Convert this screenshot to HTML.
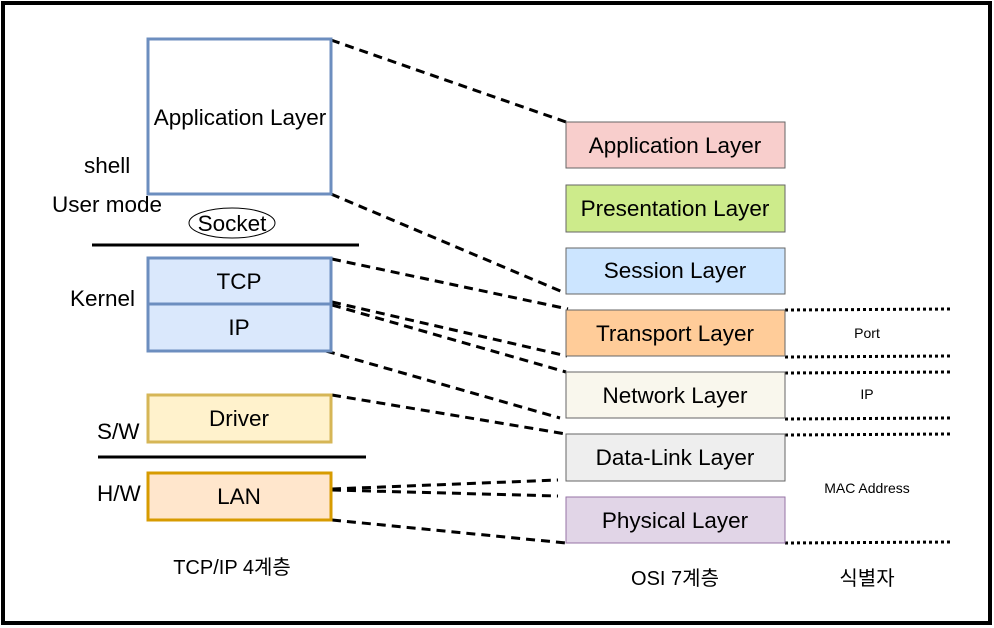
<!DOCTYPE html>
<html><head><meta charset="utf-8"><style>body{margin:0;background:#fff}svg{display:block}text{font-family:"Liberation Sans","Noto Sans CJK KR",sans-serif;fill:#000}</style></head><body>
<svg width="994" height="628" viewBox="0 0 994 628" xmlns="http://www.w3.org/2000/svg">
<rect x="0" y="0" width="994" height="628" fill="#fff"/>
<rect x="3" y="3" width="987" height="620" fill="none" stroke="#000" stroke-width="4"/>
<g stroke="#000" stroke-width="3" stroke-dasharray="9,6" fill="none">
<line x1="331" y1="40" x2="566" y2="122"/>
<line x1="331" y1="194" x2="565" y2="293"/>
<line x1="332" y1="259" x2="568" y2="309"/>
<line x1="332" y1="302" x2="567" y2="356"/>
<line x1="332" y1="305" x2="566" y2="372"/>
<line x1="326" y1="351" x2="560" y2="418"/>
<line x1="332" y1="395" x2="566" y2="434"/>
<line x1="332" y1="489" x2="558" y2="480"/>
<line x1="332" y1="490" x2="558" y2="496"/>
<line x1="332" y1="520" x2="566" y2="543"/>
</g>
<g stroke="#000" stroke-width="3" stroke-dasharray="3,3" fill="none">
<line x1="785" y1="310" x2="950" y2="309"/>
<line x1="785" y1="357" x2="950" y2="356"/>
<line x1="785" y1="373" x2="950" y2="372"/>
<line x1="785" y1="419" x2="950" y2="418"/>
<line x1="785" y1="435" x2="950" y2="434"/>
<line x1="785" y1="543" x2="950" y2="542"/>
</g>
<line x1="92" y1="245" x2="359" y2="245" stroke="#000" stroke-width="3"/>
<line x1="98" y1="457" x2="366" y2="457" stroke="#000" stroke-width="3"/>
<rect x="148" y="39" width="183" height="155" fill="#fff" stroke="#6c8ebf" stroke-width="3"/>
<rect x="148" y="258" width="183" height="46" fill="#dae8fc" stroke="#6c8ebf" stroke-width="3"/>
<rect x="148" y="304" width="183" height="47" fill="#dae8fc" stroke="#6c8ebf" stroke-width="3"/>
<rect x="148" y="395" width="183" height="47" fill="#fff2cc" stroke="#d6b656" stroke-width="3"/>
<rect x="148" y="473" width="183" height="47" fill="#ffe6cc" stroke="#d79b00" stroke-width="3"/>
<ellipse cx="232" cy="223" rx="43" ry="15" fill="#fff" stroke="#000" stroke-width="1"/>
<g stroke="#666" stroke-width="1">
<rect x="566" y="122" width="219" height="46" fill="#f8cecc"/>
<rect x="566" y="185" width="219" height="47" fill="#cdeb8b"/>
<rect x="566" y="248" width="219" height="46" fill="#cce5ff"/>
<rect x="566" y="310" width="219" height="46" fill="#ffcc99"/>
<rect x="566" y="372" width="219" height="46" fill="#f9f7ed"/>
<rect x="566" y="434" width="219" height="47" fill="#eeeeee"/>
<rect x="566" y="497" width="219" height="46" fill="#e1d5e7" stroke="#9673a6"/>
</g>
<g font-size="22.5" text-anchor="middle">
<text x="240" y="125">Application Layer</text>
<text x="232" y="231">Socket</text>
<text x="239" y="289">TCP</text>
<text x="239" y="335">IP</text>
<text x="239" y="426">Driver</text>
<text x="239" y="504">LAN</text>
<text x="675" y="153">Application Layer</text>
<text x="675" y="216">Presentation Layer</text>
<text x="675" y="278">Session Layer</text>
<text x="675" y="341">Transport Layer</text>
<text x="675" y="403">Network Layer</text>
<text x="675" y="465">Data-Link Layer</text>
<text x="675" y="528">Physical Layer</text>
</g>
<g font-size="22.5">
<text x="84" y="173">shell</text>
<text x="52" y="212">User mode</text>
<text x="70" y="306">Kernel</text>
<text x="97" y="439">S/W</text>
<text x="97" y="501">H/W</text>
</g>
<g font-size="20" text-anchor="middle">
<text x="232" y="574">TCP/IP 4계층</text>
<text x="675" y="585">OSI 7계층</text>
<text x="867" y="585">식별자</text>
</g>
<g font-size="14" text-anchor="middle">
<text x="867" y="338">Port</text>
<text x="867" y="399">IP</text>
<text x="867" y="493">MAC Address</text>
</g>
</svg>
</body></html>
